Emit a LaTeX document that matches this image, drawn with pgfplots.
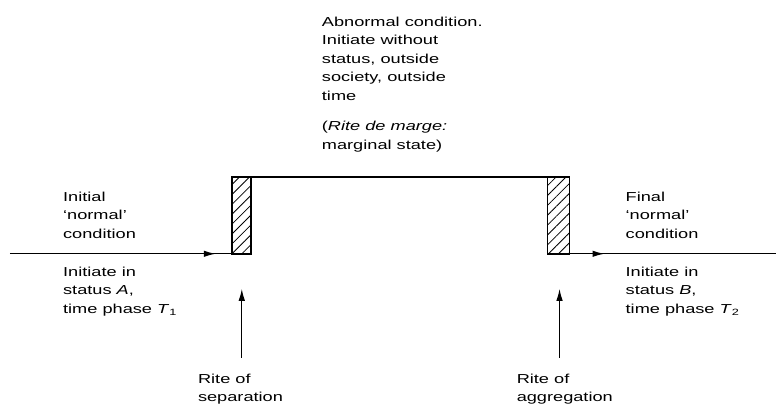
\documentclass[border=0pt]{standalone}
\usepackage{fontspec}
\setmainfont{Liberation Sans}[FakeStretch=1.4]
\usepackage{pgfplots}
\pgfplotsset{compat=1.18}
\usetikzlibrary{arrows.meta,patterns.meta}
\tikzset{lab/.style={anchor=base west, inner sep=0pt, font=\fontsize{13bp}{16bp}\selectfont}}
\begin{document}
\begin{tikzpicture}
\begin{axis}[
  width=777bp, height=407bp, scale only axis,
  xmin=0, xmax=777, ymin=0, ymax=407, y dir=reverse,
  hide axis, clip=false,
  cycle list={{black,solid,mark=none}},
  ln/.style={black, solid, mark=none, line width=1.3bp},
  arr/.style={ln, -{Latex[length=12bp,width=6.5bp]}},
  box/.style={black, solid, mark=none, line width=1.5bp, pattern={Lines[angle=45,distance=7bp,line width=0.8bp]}},
]
\addplot[draw=none, mark=none] coordinates {(0,0) (777,407)};
% horizontal lines with mid arrows
\addplot[arr] coordinates {(10,254) (216,254)};
\addplot[ln] coordinates {(212,254) (232,254)};
\addplot[arr] coordinates {(570,254) (605,254)};
\addplot[ln] coordinates {(600,254) (777,254)};
% top line
\addplot[ln] coordinates {(251,177) (548,177)};
% hatched boxes
\addplot[box] coordinates {(232,254) (232,177) (251,177) (251,254)} -- cycle;
\addplot[box] coordinates {(548,254) (548,177) (570,177) (570,254)} -- cycle;
% upward arrows
\addplot[arr] coordinates {(242,358) (242,289)};
\addplot[arr] coordinates {(560,358) (560,289)};
% texts
\node[lab] at (axis cs:322,26.5) {Abnormal condition.};
\node[lab] at (axis cs:322,45) {Initiate without};
\node[lab] at (axis cs:322,63.5) {status, outside};
\node[lab] at (axis cs:322,82) {society, outside};
\node[lab] at (axis cs:322,100.5) {time};
\node[lab] at (axis cs:322,131) {(\textit{Rite de marge:}};
\node[lab] at (axis cs:322,149.5) {marginal state)};
\node[lab] at (axis cs:63,201.5) {Initial};
\node[lab] at (axis cs:63,220) {`normal'};
\node[lab] at (axis cs:63,238.5) {condition};
\node[lab] at (axis cs:626,201.5) {Final};
\node[lab] at (axis cs:626,220) {`normal'};
\node[lab] at (axis cs:626,238.5) {condition};
\node[lab] at (axis cs:63,276.5) {Initiate in};
\node[lab] at (axis cs:63,295) {status \textit{A},};
\node[lab] at (axis cs:63,313.5) {time phase \textit{T}\textsubscript{1}};
\node[lab] at (axis cs:626,276.5) {Initiate in};
\node[lab] at (axis cs:626,295) {status \textit{B},};
\node[lab] at (axis cs:626,313.5) {time phase \textit{T}\textsubscript{2}};
\node[lab] at (axis cs:198,384) {Rite of};
\node[lab] at (axis cs:198,402) {separation};
\node[lab] at (axis cs:517,384) {Rite of};
\node[lab] at (axis cs:517,402) {aggregation};
\end{axis}
\end{tikzpicture}
\end{document}
